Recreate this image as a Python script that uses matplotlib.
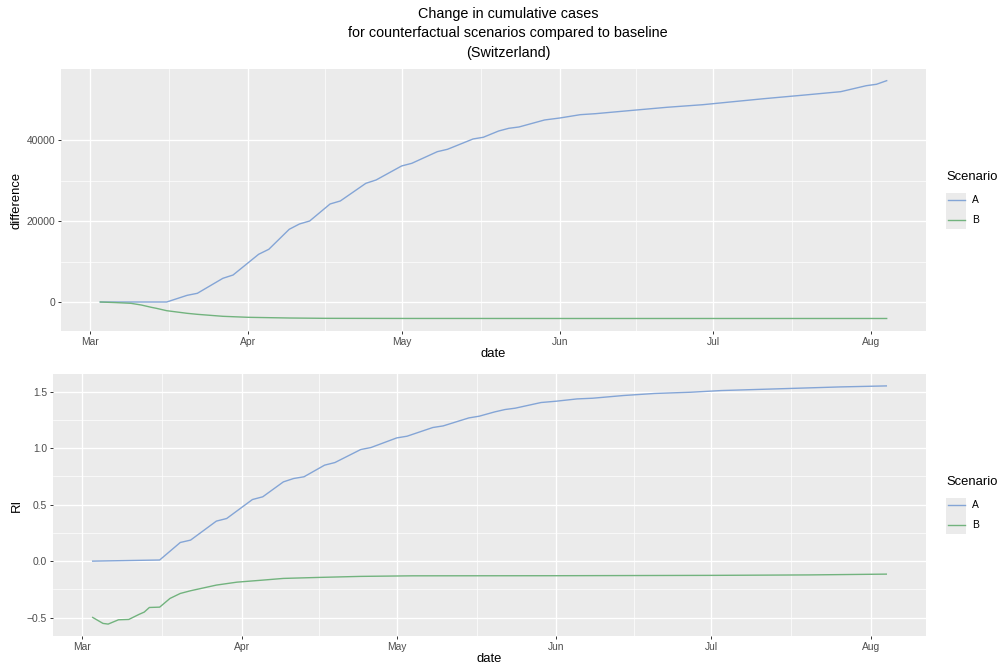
import matplotlib
matplotlib.use("Agg")
import matplotlib.pyplot as plt
import matplotlib.dates as mdates
from matplotlib.patches import Rectangle
from matplotlib.lines import Line2D
import pandas as pd

plt.rcParams['font.family'] = ['Liberation Sans', 'DejaVu Sans']

# ---- data ----
diff_dates_A = ["2020-03-03", "2020-03-16", "2020-03-20", "2020-03-22", "2020-03-27", "2020-03-29",
                "2020-04-03", "2020-04-05", "2020-04-09", "2020-04-11", "2020-04-13", "2020-04-17",
                "2020-04-19", "2020-04-24", "2020-04-26", "2020-05-01", "2020-05-03", "2020-05-08",
                "2020-05-10", "2020-05-15", "2020-05-17", "2020-05-20", "2020-05-22", "2020-05-24",
                "2020-05-29", "2020-06-01", "2020-06-05", "2020-06-08", "2020-06-16", "2020-06-22",
                "2020-06-29", "2020-07-05", "2020-07-11", "2020-07-19", "2020-07-26", "2020-07-31",
                "2020-08-02", "2020-08-04"]
diff_A = [0, 0, 1650, 2150, 5860, 6680,
          11800, 13040, 17990, 19300, 20040, 24250,
          24990, 29360, 30180, 33650, 34310, 37190,
          37780, 40330, 40750, 42300, 42970, 43300,
          45030, 45520, 46340, 46590, 47500, 48170,
          48810, 49560, 50300, 51210, 52030, 53510,
          53860, 54750]

diff_dates_B = ["2020-03-03", "2020-03-06", "2020-03-09", "2020-03-11", "2020-03-13", "2020-03-14",
                "2020-03-16", "2020-03-20", "2020-03-22", "2020-03-27", "2020-04-01", "2020-04-09",
                "2020-04-16", "2020-05-01", "2020-06-01", "2020-07-01", "2020-08-04"]
diff_B = [0, -150, -330, -740, -1320, -1570,
          -2150, -2800, -3050, -3540, -3790, -3960,
          -4040, -4070, -4080, -4080, -4080]

ri_dates_A = ["2020-03-03", "2020-03-16", "2020-03-20", "2020-03-22", "2020-03-27", "2020-03-29",
              "2020-04-03", "2020-04-05", "2020-04-09", "2020-04-11", "2020-04-13", "2020-04-17",
              "2020-04-19", "2020-04-24", "2020-04-26", "2020-05-01", "2020-05-03", "2020-05-08",
              "2020-05-10", "2020-05-15", "2020-05-17", "2020-05-20", "2020-05-22", "2020-05-24",
              "2020-05-29", "2020-06-01", "2020-06-05", "2020-06-08", "2020-06-14", "2020-06-20",
              "2020-06-27", "2020-07-03", "2020-07-16", "2020-07-26", "2020-08-04"]
ri_A = [0.0, 0.01, 0.165, 0.186, 0.354, 0.377,
        0.545, 0.569, 0.701, 0.731, 0.746, 0.849,
        0.872, 0.987, 1.005, 1.09, 1.105, 1.182,
        1.196, 1.267, 1.282, 1.32, 1.341, 1.353,
        1.403, 1.415, 1.435, 1.441, 1.465, 1.483,
        1.494, 1.509, 1.527, 1.541, 1.55]

ri_dates_B = ["2020-03-03", "2020-03-05", "2020-03-06", "2020-03-08", "2020-03-10", "2020-03-12",
              "2020-03-13", "2020-03-14", "2020-03-16", "2020-03-18", "2020-03-20", "2020-03-22",
              "2020-03-27", "2020-03-31", "2020-04-05", "2020-04-09", "2020-04-16", "2020-04-24",
              "2020-05-04", "2020-06-01", "2020-07-01", "2020-07-20", "2020-08-04"]
ri_B = [-0.498, -0.551, -0.557, -0.519, -0.516, -0.471,
        -0.451, -0.41, -0.407, -0.33, -0.286, -0.262,
        -0.212, -0.186, -0.168, -0.153, -0.144, -0.135,
        -0.13, -0.129, -0.126, -0.122, -0.115]

scenarios = ["A", "B"]
colors = {"A": "#84A5D6", "B": "#72B37E"}

title_lines = ["Change in cumulative cases",
               "for counterfactual scenarios compared to baseline",
               "(Switzerland)"]

# ---- figure ----
W, H = 1000, 668
fig = plt.figure(figsize=(W / 100, H / 100), dpi=100)


def px_axes(l, t, r, b):
    return fig.add_axes([l / W, 1 - b / H, (r - l) / W, (b - t) / H])


def style(ax, ylabel, label_x_frac):
    ax.set_facecolor("#EBEBEB")
    for s in ax.spines.values():
        s.set_visible(False)
    ax.margins(x=0.05, y=0.05)
    ax.xaxis.set_major_locator(mdates.MonthLocator())
    ax.xaxis.set_major_formatter(mdates.DateFormatter("%b"))
    # minor grid at midpoints between major ticks
    ax.figure.canvas.draw()
    majors = ax.get_xticks()
    mids = [(a + b) / 2 for a, b in zip(majors[:-1], majors[1:])]
    ax.set_xticks(mids, minor=True)
    yt = ax.get_yticks()
    ymids = [(a + b) / 2 for a, b in zip(yt[:-1], yt[1:])]
    ax.set_yticks(ymids, minor=True)
    ax.grid(which="major", color="white", linewidth=0.95)
    ax.grid(which="minor", color="white", linewidth=0.5)
    ax.set_axisbelow(True)
    ax.tick_params(which="major", length=2.3, width=0.7, color="#333333",
                   labelsize=7.4, labelcolor="#4D4D4D", pad=2)
    ax.tick_params(which="minor", length=0)
    ax.set_xlabel("date", fontsize=9.4, color="black")
    ax.xaxis.label.set_va("center")
    ax.xaxis.set_label_coords(0.5, -0.086)
    ax.set_ylabel(ylabel, fontsize=9.4, color="black")
    ax.yaxis.label.set_va("center")
    ax.yaxis.set_label_coords(label_x_frac, 0.5)


# top panel
ax1 = px_axes(61, 69, 926, 331)
ax1.plot(pd.to_datetime(diff_dates_A), diff_A, color=colors["A"], lw=1.0)
ax1.plot(pd.to_datetime(diff_dates_B), diff_B, color=colors["B"], lw=1.0)
ax1.set_ylim(-7175, 57640)
ax1.set_yticks([0, 20000, 40000])
ax1.set_yticklabels(["0", "20000", "40000"])
style(ax1, "difference", (16.7 - 61) / 865)

# bottom panel
ax2 = px_axes(53, 374, 926, 636)
ax2.plot(pd.to_datetime(ri_dates_A), ri_A, color=colors["A"], lw=1.0)
ax2.plot(pd.to_datetime(ri_dates_B), ri_B, color=colors["B"], lw=1.0)
ax2.set_yticks([-0.5, 0.0, 0.5, 1.0, 1.5])
ax2.set_yticklabels(["\u22120.5", "0.0", "0.5", "1.0", "1.5"])
style(ax2, "RI", (16.7 - 53) / 873)

# titles
for i, line in enumerate(title_lines):
    fig.text(508 / W, 1 - (14 + 19.3 * i) / H, line, ha="center", va="center",
             fontsize=10.4, color="black")


# legends (ggplot-style)
def legend(title_y):
    fig.text(946 / W, 1 - title_y / H, "Scenario", ha="left", va="center",
             fontsize=9.4, color="black")
    top = title_y + 16
    fig.patches.append(Rectangle((946 / W, 1 - (top + 36) / H), 20 / W, 36 / H,
                                 transform=fig.transFigure, facecolor="#EBEBEB",
                                 edgecolor="none"))
    for j, s in enumerate(scenarios):
        yc = top + 7 + 20.5 * j
        fig.lines.append(Line2D([947.5 / W, 964.5 / W], [1 - yc / H, 1 - yc / H],
                                transform=fig.transFigure, color=colors[s], lw=1.0))
        fig.text(972 / W, 1 - yc / H, s, ha="left", va="center", fontsize=7.4,
                 color="black")


legend(176.7)
legend(481.7)

fig.savefig("out.png", dpi=100, facecolor="white")
